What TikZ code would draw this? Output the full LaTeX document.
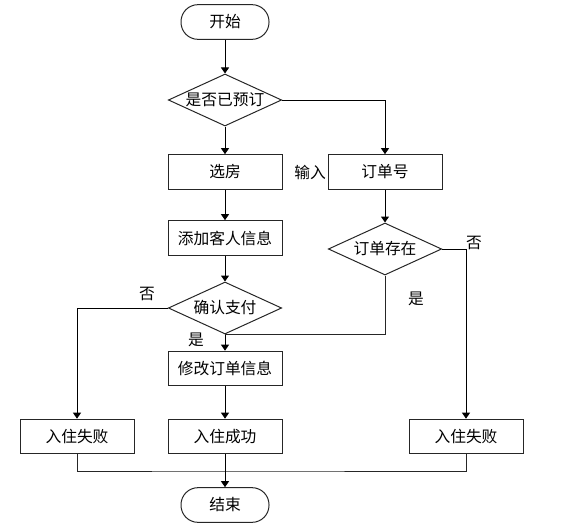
\documentclass[tikz,border=0pt]{standalone}
\usepackage{fontspec}
\setmainfont{Noto Sans CJK SC}
\usetikzlibrary{shapes.geometric, arrows.meta}

\begin{document}
\begin{tikzpicture}[x=0.75pt, y=-0.75pt,
    every node/.style={font=\fontsize{11.8}{14}\selectfont},
    terminal/.style={draw=black!85, line width=0.75pt, rounded corners=12.75pt, minimum width=66pt, minimum height=26pt},
    stepbox/.style={draw=black!85, line width=0.75pt, minimum width=85.5pt, minimum height=26pt},
    decision/.style={draw=black!85, line width=0.75pt, diamond, aspect=2.2, inner sep=0pt, minimum width=85pt, minimum height=39pt},
    flow/.style={draw=black, line width=0.75pt, -{Triangle[width=6pt,length=4.5pt]}},
    link/.style={draw=black!85, line width=0.75pt}]
                \useasboundingbox (0,0) rectangle (574,528);

                % Start and booking check
                \node[terminal] (start) at (225,22) {开始};
                \node[decision] (booked) at (225,100) {是否已预订};

                % Left column
                \node[stepbox] (room) at (225,172) {选房};
                \node[stepbox] (guest) at (225,238) {添加客人信息};
                \node[decision] (pay) at (225,308) {确认支付};
                \node[stepbox] (update) at (225,368.5) {修改订单信息};

                % Right column
                \node[stepbox] (orderno) at (385,172) {订单号};
                \node[anchor=east, inner sep=1pt] (input) at (orderno.west) {输入};
                \node[decision] (exists) at (385,249) {订单存在};

                % Results row
                \node[stepbox] (failleft) at (77,436.5) {入住失败};
                \node[stepbox] (success) at (225,436.5) {入住成功};
                \node[stepbox] (failright) at (466,436.5) {入住失败};
                \coordinate (merge) at (225,471);
                \node[terminal] (end) at (225,505) {结束};

                % Branch labels
                \node (payno) at (147,294) {否};
                \node (payyes) at (196,340) {是};
                \node (existsyes) at (416,299) {是};
                \node (existsno) at (474,243) {否};

                % Connectors
                \draw[flow] (start) -- (booked);
                \draw[flow] (booked) -- (room);
                \draw[flow] (booked.east) -| (orderno.north);
                \draw[flow] (room) -- (guest);
                \draw[flow] (guest) -- (pay);
                \draw[flow] (pay) -- (update);
                \draw[flow] (orderno) -- (exists);
                \draw[link] (exists.south) |- (pay.south);
                \draw[flow] (exists.east) -| (failright.north);
                \draw[flow] (pay.west) -| (failleft.north);
                \draw[flow] (update) -- (success);
                \draw[link] (failleft.south) |- (merge) -| (failright.south);
                \draw[flow] (success) -- (end);
            \end{tikzpicture}
\end{document}
